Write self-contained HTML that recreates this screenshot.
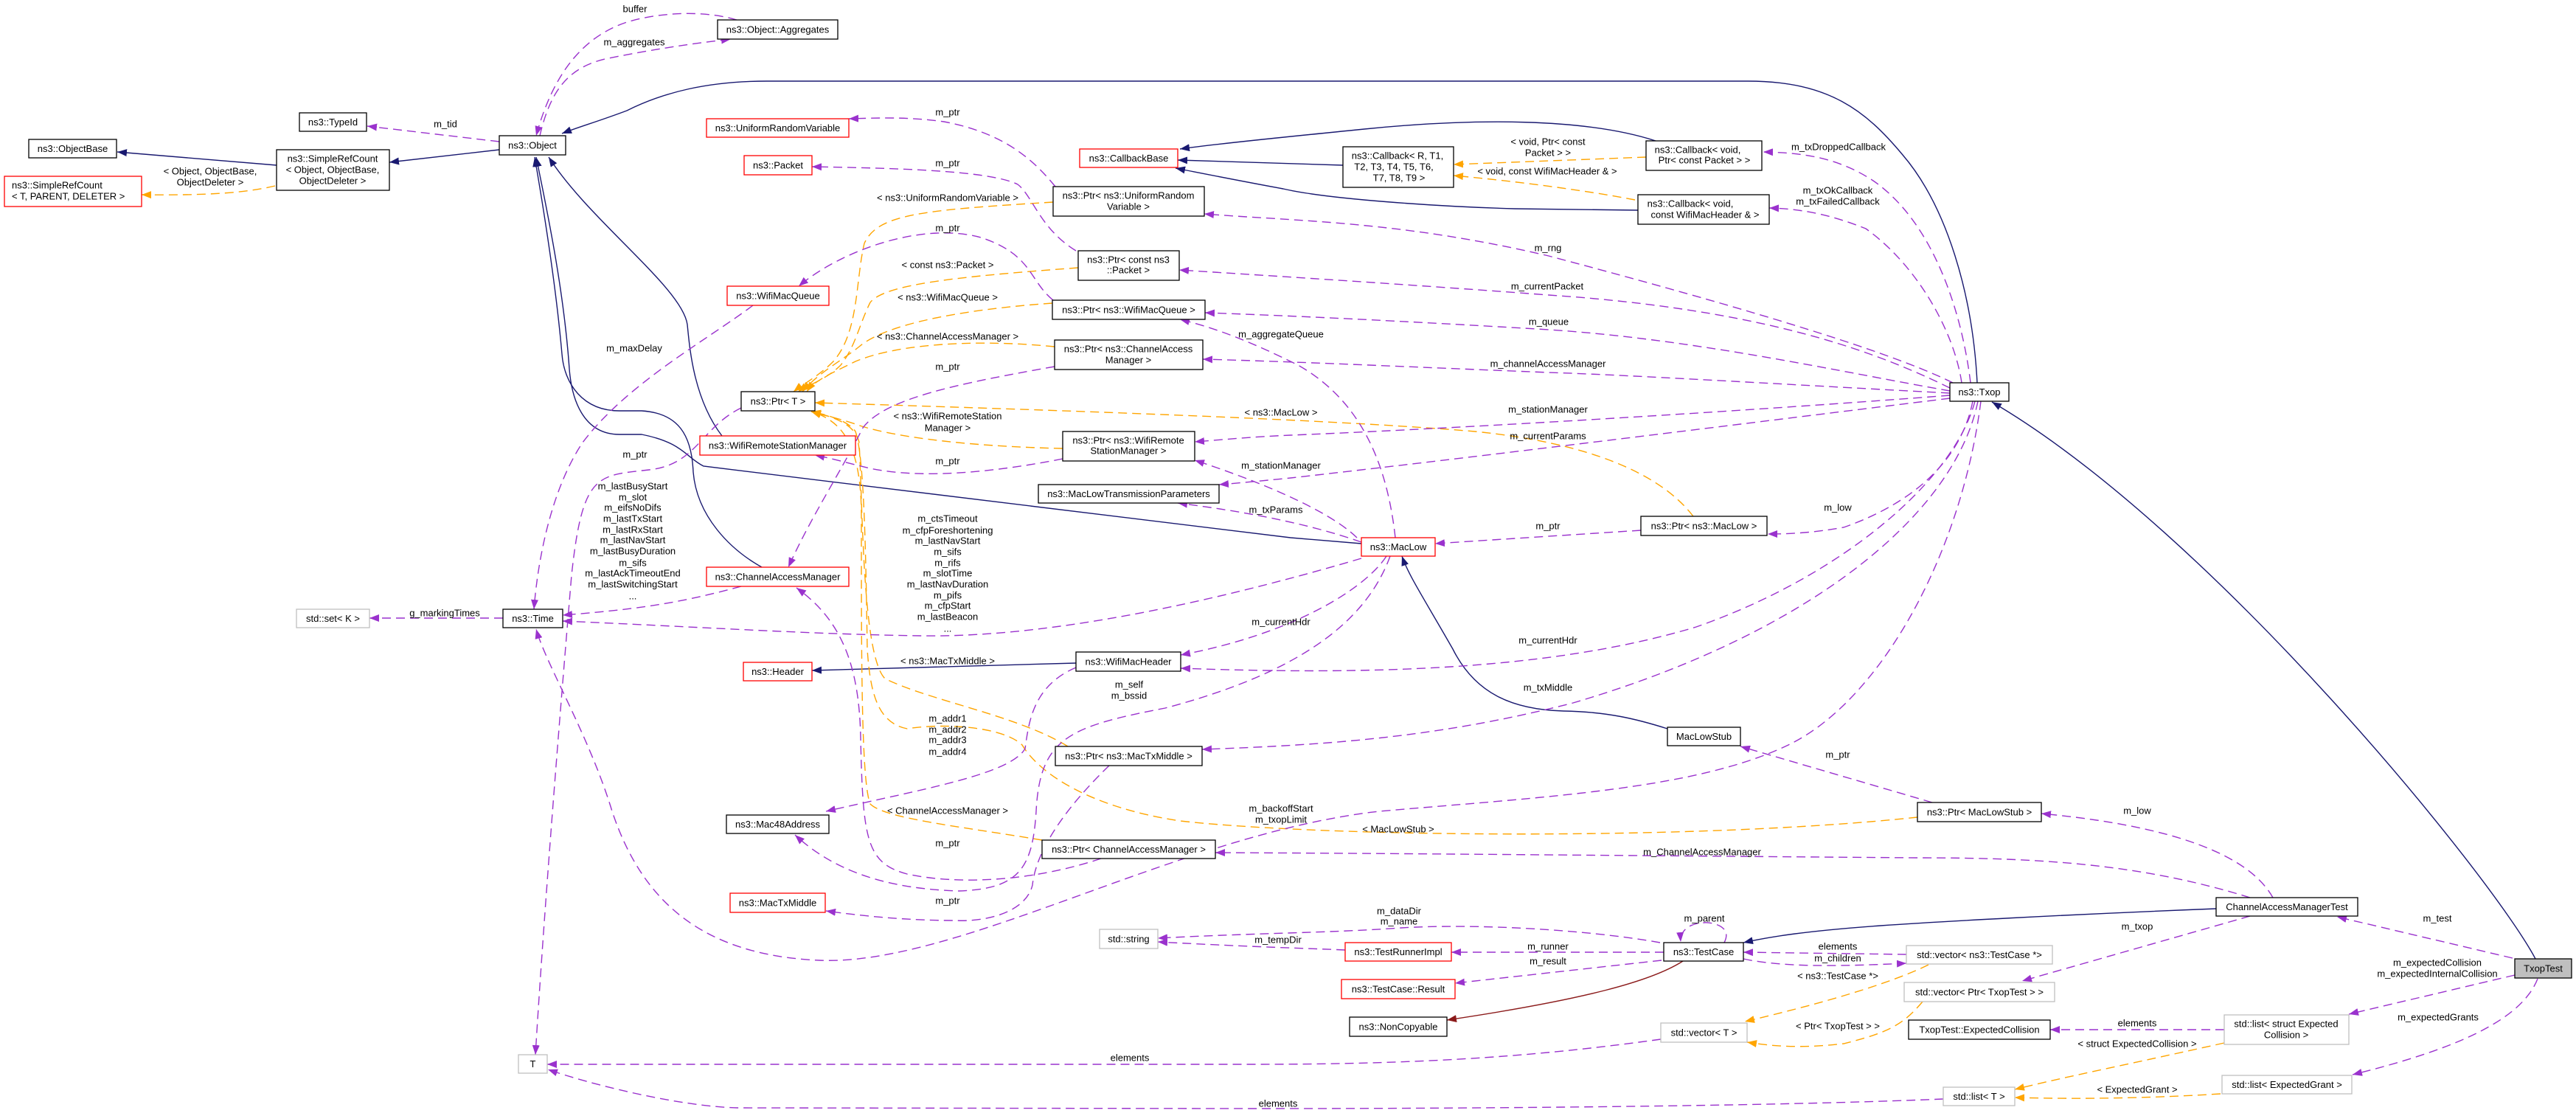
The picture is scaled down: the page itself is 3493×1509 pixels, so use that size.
<!DOCTYPE html>
<html>
<head>
<meta charset="utf-8">
<style>
  html, body { margin:0; padding:0; background:#ffffff; }
  svg { display:block; }
  text { font-family: "Liberation Sans", "DejaVu Sans", sans-serif; font-size:13px; fill:#000; }
  .c { text-anchor: middle; }
  .s { text-anchor: start; }
  .p { fill:none; stroke:#9a32cd; stroke-width:1.4; stroke-dasharray:12,7; marker-end:url(#mp); }
  .o { fill:none; stroke:#ffa500; stroke-width:1.4; stroke-dasharray:12,7; marker-end:url(#mo); }
  .b { fill:none; stroke:#191970; stroke-width:1.4; marker-end:url(#mb); }
  .r { fill:none; stroke:#8b1a1a; stroke-width:1.4; marker-end:url(#mr); }
  .nk { fill:#ffffff; stroke:#000000; stroke-width:1.3; }
  .nr { fill:#ffffff; stroke:#ff0000; stroke-width:1.3; }
  .ng { fill:#ffffff; stroke:#bfbfbf; stroke-width:1.3; }
  .nf { fill:#bfbfbf; stroke:#000000; stroke-width:1.3; }
</style>
</head>
<body>
<svg xmlns="http://www.w3.org/2000/svg" width="3493" height="1509" viewBox="0 0 3493 1509">
<defs>
  <marker id="mp" markerWidth="14" markerHeight="10" refX="13" refY="5" orient="auto" markerUnits="userSpaceOnUse"><path d="M0,0 L13,5 L0,10 z" fill="#9a32cd"/></marker>
  <marker id="mo" markerWidth="14" markerHeight="10" refX="13" refY="5" orient="auto" markerUnits="userSpaceOnUse"><path d="M0,0 L13,5 L0,10 z" fill="#ffa500"/></marker>
  <marker id="mb" markerWidth="14" markerHeight="10" refX="13" refY="5" orient="auto" markerUnits="userSpaceOnUse"><path d="M0,0 L13,5 L0,10 z" fill="#191970"/></marker>
  <marker id="mr" markerWidth="14" markerHeight="10" refX="13" refY="5" orient="auto" markerUnits="userSpaceOnUse"><path d="M0,0 L13,5 L0,10 z" fill="#8b1a1a"/></marker>
</defs>
<rect x="0" y="0" width="3493" height="1509" fill="#ffffff"/>

<!-- ============ BLUE (inheritance) ============ -->
<path class="b" d="M375,224 L159,206"/>
<path class="b" d="M677,203 L528,220"/>
<path class="b" d="M2681,519 C2675,400 2640,280 2580,210 C2530,150 2480,110 2370,110 L1040,110 C960,110 900,125 850,150 C810,165 785,172 762,181"/>
<path class="b" d="M979,591 C940,540 935,470 932,440 C925,390 800,300 744,213"/>
<path class="b" d="M1033,769 C990,745 945,700 940,640 C938,590 920,560 870,557 L840,557 C790,557 765,520 762,480 C755,400 740,300 725,213"/>
<path class="b" d="M1846,737 L1750,729 L954,632 C930,620 926,600 870,589 L840,589 C790,589 775,540 772,500 C765,400 745,300 727,213"/>
<path class="b" d="M1459,899 L1101,909"/>
<path class="b" d="M2261,988 C2220,975 2180,965 2120,964 C2050,962 2000,940 1970,880 C1930,810 1910,780 1901,754"/>
<path class="b" d="M1821,224 L1597,217"/>
<path class="b" d="M2245,191 C2150,160 2000,160 1850,175 C1750,185 1650,195 1600,202"/>
<path class="b" d="M2221,285 L2054,283 C1950,280 1800,270 1740,256 C1680,245 1630,235 1594,228"/>
<path class="b" d="M3005,1232 C2800,1240 2620,1250 2550,1255 C2450,1262 2400,1270 2364,1278"/>
<path class="b" d="M3438,1300 C3380,1190 3000,720 2701,545"/>
<path class="r" d="M2282,1303 C2240,1330 2150,1355 1962,1383"/>

<!-- ============ ORANGE (template instances) ============ -->
<path class="o" d="M373,252 C330,262 280,265 192,264"/>
<path class="o" d="M2232,213 L1971,223"/>
<path class="o" d="M2217,271 C2150,258 2050,245 1971,238"/>
<path class="o" d="M1428,274 C1250,285 1190,290 1172,330 C1160,380 1165,450 1130,490 C1110,510 1090,520 1076,531"/>
<path class="o" d="M1462,363 C1300,375 1200,385 1180,410 C1165,440 1160,470 1140,495 C1120,515 1095,522 1082,531"/>
<path class="o" d="M1427,411 C1300,420 1200,440 1165,470 C1140,490 1110,505 1088,531"/>
<path class="o" d="M1430,470 C1330,460 1220,465 1160,490 C1130,505 1105,515 1094,531"/>
<path class="o" d="M1441,608 C1300,605 1200,590 1160,575 C1130,565 1115,563 1100,558"/>
<path class="o" d="M2296,700 C2250,640 2150,600 2000,585 C1800,568 1400,555 1105,546"/>
<path class="o" d="M1448,1012 C1380,970 1260,950 1200,920 C1170,890 1170,700 1165,600 C1160,575 1130,565 1100,558"/>
<path class="o" d="M2600,1108 C2300,1140 1800,1135 1600,1113 C1480,1095 1410,1050 1386,1010 C1360,985 1280,980 1230,988 C1190,980 1180,940 1176,880 C1174,750 1172,620 1160,585 C1150,570 1120,562 1100,558"/>
<path class="o" d="M1413,1139 C1300,1120 1200,1110 1180,1090 C1168,1060 1168,900 1168,700 C1168,600 1140,570 1100,558"/>
<path class="o" d="M2615,1308 C2550,1340 2430,1370 2366,1385"/>
<path class="o" d="M2607,1358 C2580,1390 2560,1400 2500,1415 C2440,1422 2400,1418 2369,1413"/>
<path class="o" d="M3016,1414 C2900,1440 2800,1460 2732,1477"/>
<path class="o" d="M3011,1483 C2900,1490 2800,1490 2732,1488"/>

<!-- ============ PURPLE (usage) ============ -->
<path class="p" d="M677,192 L498,171"/>
<path class="p" d="M732,184 C747,120 772,92 820,80 C880,68 930,60 991,53"/>
<path class="p" d="M999,27 C960,15 900,15 850,30 C790,50 750,100 727,184"/>
<path class="p" d="M1431,253 C1400,215 1360,180 1280,165 C1230,158 1190,160 1151,161"/>
<path class="p" d="M1459,340 C1410,310 1400,265 1380,250 C1340,230 1200,228 1101,226"/>
<path class="p" d="M1428,407 C1395,380 1400,345 1330,322 C1250,300 1140,340 1083,388"/>
<path class="p" d="M1430,497 C1300,520 1200,540 1170,580 C1140,640 1100,700 1069,769"/>
<path class="p" d="M1021,414 C960,460 850,520 790,600 C750,660 730,750 724,826"/>
<path class="p" d="M1005,553 C950,580 945,630 880,637 C810,645 790,640 775,780 C765,900 740,1200 726,1430"/>
<path class="p" d="M1441,622 C1350,640 1250,650 1180,635 C1150,628 1130,622 1105,617"/>
<path class="p" d="M1005,795 C930,815 880,825 763,834"/>
<path class="p" d="M1846,757 C1700,800 1450,865 1250,862 C1100,860 950,850 763,842"/>
<path class="p" d="M1892,729 C1880,620 1840,540 1760,495 C1700,465 1650,445 1600,433"/>
<path class="p" d="M1840,729 C1800,690 1700,650 1620,624"/>
<path class="p" d="M1846,735 C1780,712 1700,695 1597,682"/>
<path class="p" d="M1880,754 C1850,800 1750,860 1601,888"/>
<path class="p" d="M1885,754 C1850,850 1750,915 1580,960 C1450,985 1410,1000 1405,1100 C1400,1180 1380,1205 1300,1208 C1200,1205 1130,1180 1078,1132"/>
<path class="p" d="M1459,905 C1400,930 1395,980 1390,1015 C1370,1050 1250,1070 1120,1100"/>
<path class="p" d="M1504,1038 C1450,1090 1405,1150 1400,1200 C1390,1240 1330,1250 1296,1248 C1230,1248 1170,1242 1120,1235"/>
<path class="p" d="M1493,1164 C1400,1195 1300,1200 1230,1185 C1175,1170 1170,1140 1167,1000 C1165,900 1140,840 1080,797"/>
<path class="p" d="M2672,519 C2660,420 2620,300 2540,245 C2490,212 2440,207 2391,206"/>
<path class="p" d="M2660,519 C2650,450 2600,360 2530,310 C2480,290 2440,283 2399,282"/>
<path class="p" d="M2648,519 C2550,470 2300,400 2100,347 C1900,300 1760,300 1633,290"/>
<path class="p" d="M2644,526 C2550,480 2400,420 2100,400 C1900,385 1740,375 1599,366"/>
<path class="p" d="M2644,530 C2500,505 2300,460 2100,447 C1900,435 1750,428 1634,424"/>
<path class="p" d="M2644,533 C2400,520 2200,508 2100,505 C1900,497 1750,490 1631,487"/>
<path class="p" d="M2644,536 C2400,555 2000,580 1750,590 C1700,592 1660,596 1620,599"/>
<path class="p" d="M2644,540 C2400,570 2000,620 1750,648 C1720,651 1680,655 1653,657"/>
<path class="p" d="M2675,544 C2660,620 2600,680 2500,715 C2460,722 2430,724 2397,724"/>
<path class="p" d="M2678,544 C2650,650 2500,780 2300,850 C2100,910 1850,915 1601,906"/>
<path class="p" d="M2682,544 C2650,700 2450,860 2133,953 C1950,1000 1800,1010 1630,1016"/>
<path class="p" d="M2686,544 C2660,750 2550,950 2425,1010 C2300,1070 2100,1080 1870,1100 C1600,1130 1300,1310 1111,1302 C950,1295 870,1220 830,1100 C800,1000 740,900 727,853"/>
<path class="p" d="M2225,719 L1946,737"/>
<path class="p" d="M2620,1088 L2360,1012"/>
<path class="p" d="M3082,1217 C3050,1160 2950,1120 2768,1103"/>
<path class="p" d="M3051,1217 C2900,1170 2760,1163 2600,1163 C2200,1160 1900,1157 1648,1156"/>
<path class="p" d="M3051,1242 L2742,1330"/>
<path class="p" d="M3407,1299 L3169,1243"/>
<path class="p" d="M3410,1322 L3185,1375"/>
<path class="p" d="M3441,1327 C3420,1380 3340,1420 3190,1457"/>
<path class="p" d="M3016,1396 L2780,1396"/>
<path class="p" d="M2635,1490 C2400,1500 2000,1503 1700,1503 L1000,1502 C920,1500 800,1470 743,1450"/>
<path class="p" d="M2252,1409 C2100,1430 1950,1443 1700,1443 L742,1443"/>
<path class="p" d="M2585,1294 L2364,1291"/>
<path class="p" d="M2364,1300 C2420,1312 2500,1310 2585,1306"/>
<path class="p" d="M2338,1278 C2350,1255 2320,1250 2310,1251 C2290,1252 2278,1262 2279,1277"/>
<path class="p" d="M2256,1291 L1968,1291"/>
<path class="p" d="M2253,1302 L1973,1333"/>
<path class="p" d="M2251,1278 C2150,1260 2000,1252 1900,1258 C1800,1265 1700,1265 1570,1272"/>
<path class="p" d="M1824,1288 C1780,1286 1700,1284 1570,1277"/>
<path class="p" d="M682,838 L501,838"/>

<!-- ============ EDGE LABELS ============ -->
<g class="lbl">
<text class="c" x="861" y="16.5">buffer</text>
<text class="c" x="860" y="61.5">m_aggregates</text>
<text class="c" x="604" y="172.5">m_tid</text>
<text class="c" x="285" y="236.5">&lt; Object, ObjectBase,</text>
<text class="c" x="285" y="251.5">ObjectDeleter &gt;</text>
<text class="c" x="1285" y="156.5">m_ptr</text>
<text class="c" x="1285" y="225.5">m_ptr</text>
<text class="c" x="1285" y="272.5">&lt; ns3::UniformRandomVariable &gt;</text>
<text class="c" x="1285" y="313.5">m_ptr</text>
<text class="c" x="1285" y="363.5">&lt; const ns3::Packet &gt;</text>
<text class="c" x="1285" y="407.5">&lt; ns3::WifiMacQueue &gt;</text>
<text class="c" x="1285" y="460.5">&lt; ns3::ChannelAccessManager &gt;</text>
<text class="c" x="1285" y="501.5">m_ptr</text>
<text class="c" x="1737" y="457.5">m_aggregateQueue</text>
<text class="c" x="2099" y="196.5">&lt; void, Ptr&lt; const</text>
<text class="c" x="2099" y="211.5">Packet &gt; &gt;</text>
<text class="c" x="2098" y="236.5">&lt; void, const WifiMacHeader &amp; &gt;</text>
<text class="c" x="2493" y="203.5">m_txDroppedCallback</text>
<text class="c" x="2492" y="262.5">m_txOkCallback</text>
<text class="c" x="2492" y="277.5">m_txFailedCallback</text>
<text class="c" x="2099" y="340.5">m_rng</text>
<text class="c" x="2098" y="392.5">m_currentPacket</text>
<text class="c" x="2100" y="440.5">m_queue</text>
<text class="c" x="2099" y="497.5">m_channelAccessManager</text>
<text class="c" x="860" y="476.5">m_maxDelay</text>
<text class="c" x="861" y="620.5">m_ptr</text>
<text class="c" x="1285" y="568.5">&lt; ns3::WifiRemoteStation</text>
<text class="c" x="1285" y="584.5">Manager &gt;</text>
<text class="c" x="1285" y="629.5">m_ptr</text>
<text class="c" x="1737" y="563.5">&lt; ns3::MacLow &gt;</text>
<text class="c" x="2099" y="559.5">m_stationManager</text>
<text class="c" x="2099" y="595.5">m_currentParams</text>
<text class="c" x="1737" y="635.5">m_stationManager</text>
<text class="c" x="1730" y="695.5">m_txParams</text>
<text class="c" x="2099" y="717.5">m_ptr</text>
<text class="c" x="2492" y="692.5">m_low</text>

<text class="c" x="858" y="663.5">m_lastBusyStart</text>
<text class="c" x="858" y="678.5">m_slot</text>
<text class="c" x="858" y="692.5">m_eifsNoDifs</text>
<text class="c" x="858" y="707.5">m_lastTxStart</text>
<text class="c" x="858" y="722.5">m_lastRxStart</text>
<text class="c" x="858" y="736.5">m_lastNavStart</text>
<text class="c" x="858" y="751.5">m_lastBusyDuration</text>
<text class="c" x="858" y="767.5">m_sifs</text>
<text class="c" x="858" y="781.5">m_lastAckTimeoutEnd</text>
<text class="c" x="858" y="796.5">m_lastSwitchingStart</text>
<text class="c" x="858" y="812.5">...</text>

<text class="c" x="1285" y="707.5">m_ctsTimeout</text>
<text class="c" x="1285" y="723.5">m_cfpForeshortening</text>
<text class="c" x="1285" y="737.5">m_lastNavStart</text>
<text class="c" x="1285" y="752.5">m_sifs</text>
<text class="c" x="1285" y="767.5">m_rifs</text>
<text class="c" x="1285" y="781.5">m_slotTime</text>
<text class="c" x="1285" y="796.5">m_lastNavDuration</text>
<text class="c" x="1285" y="811.5">m_pifs</text>
<text class="c" x="1285" y="825.5">m_cfpStart</text>
<text class="c" x="1285" y="840.5">m_lastBeacon</text>
<text class="c" x="1285" y="856.5">...</text>

<text class="c" x="603" y="835.5">g_markingTimes</text>
<text class="c" x="1737" y="847.5">m_currentHdr</text>
<text class="c" x="2099" y="872.5">m_currentHdr</text>
<text class="c" x="2099" y="936.5">m_txMiddle</text>
<text class="c" x="1285" y="900.5">&lt; ns3::MacTxMiddle &gt;</text>
<text class="c" x="1531" y="932.5">m_self</text>
<text class="c" x="1531" y="947.5">m_bssid</text>
<text class="c" x="1285" y="978.5">m_addr1</text>
<text class="c" x="1285" y="993.5">m_addr2</text>
<text class="c" x="1285" y="1007.5">m_addr3</text>
<text class="c" x="1285" y="1023.5">m_addr4</text>
<text class="c" x="1285" y="1103.5">&lt; ChannelAccessManager &gt;</text>
<text class="c" x="1285" y="1147.5">m_ptr</text>
<text class="c" x="1285" y="1225.5">m_ptr</text>
<text class="c" x="1737" y="1100.5">m_backoffStart</text>
<text class="c" x="1737" y="1115.5">m_txopLimit</text>
<text class="c" x="2492" y="1027.5">m_ptr</text>
<text class="c" x="1896" y="1128.5">&lt; MacLowStub &gt;</text>
<text class="c" x="2308" y="1159.5">m_ChannelAccessManager</text>
<text class="c" x="2898" y="1103.5">m_low</text>
<text class="c" x="1733" y="1278.5">m_tempDir</text>
<text class="c" x="1897" y="1239.5">m_dataDir</text>
<text class="c" x="1897" y="1253.5">m_name</text>
<text class="c" x="2311" y="1249.5">m_parent</text>
<text class="c" x="2099" y="1287.5">m_runner</text>
<text class="c" x="2099" y="1307.5">m_result</text>
<text class="c" x="2492" y="1287.5">elements</text>
<text class="c" x="2492" y="1303.5">m_children</text>
<text class="c" x="2492" y="1327.5">&lt; ns3::TestCase *&gt;</text>
<text class="c" x="2492" y="1395.5">&lt; Ptr&lt; TxopTest &gt; &gt;</text>
<text class="c" x="2898" y="1260.5">m_txop</text>
<text class="c" x="3305" y="1249.5">m_test</text>
<text class="c" x="3305" y="1309.5">m_expectedCollision</text>
<text class="c" x="3305" y="1324.5">m_expectedInternalCollision</text>
<text class="c" x="3306" y="1383.5">m_expectedGrants</text>
<text class="c" x="2898" y="1391.5">elements</text>
<text class="c" x="2898" y="1419.5">&lt; struct ExpectedCollision &gt;</text>
<text class="c" x="2898" y="1481.5">&lt; ExpectedGrant &gt;</text>
<text class="c" x="1532" y="1438.5">elements</text>
<text class="c" x="1733" y="1500.5">elements</text>
</g>

<!-- ============ NODES ============ -->
<rect class="nk" x="973" y="27" width="163" height="26"/><text class="c" x="1054.5" y="44.5">ns3::Object::Aggregates</text>
<rect class="nk" x="406" y="153" width="91" height="25"/><text class="c" x="451.5" y="170">ns3::TypeId</text>
<rect class="nk" x="39" y="189" width="119" height="25"/><text class="c" x="98.5" y="206">ns3::ObjectBase</text>
<rect class="nk" x="375" y="203" width="153" height="55"/>
<text class="c" x="451" y="219.5">ns3::SimpleRefCount</text>
<text class="c" x="451" y="234.5">&lt; Object, ObjectBase,</text>
<text class="c" x="451" y="249.5">ObjectDeleter &gt;</text>
<rect class="nr" x="6" y="239" width="186" height="41"/>
<text class="s" x="16" y="255.5">ns3::SimpleRefCount</text>
<text class="s" x="16" y="270.5">&lt; T, PARENT, DELETER &gt;</text>
<rect class="nk" x="677" y="184" width="90" height="26"/><text class="c" x="722" y="201.5">ns3::Object</text>
<rect class="nr" x="958" y="161" width="193" height="25"/><text class="c" x="1054.5" y="178">ns3::UniformRandomVariable</text>
<rect class="nr" x="1009" y="211" width="92" height="26"/><text class="c" x="1055" y="228.5">ns3::Packet</text>
<rect class="nr" x="1464" y="202" width="133" height="25"/><text class="c" x="1530.5" y="219">ns3::CallbackBase</text>
<rect class="nk" x="1821" y="199" width="150" height="55"/>
<text class="c" x="1895" y="215.5">ns3::Callback&lt; R, T1,</text>
<text class="c" x="1890" y="230.5">T2, T3, T4, T5, T6,</text>
<text class="c" x="1897" y="245.5">T7, T8, T9 &gt;</text>
<rect class="nk" x="2232" y="191" width="157" height="40"/>
<text class="c" x="2302" y="207.5">ns3::Callback&lt; void,</text>
<text class="c" x="2311" y="221.5">Ptr&lt; const Packet &gt; &gt;</text>
<rect class="nk" x="2221" y="264" width="178" height="40"/>
<text class="c" x="2292" y="280.5">ns3::Callback&lt; void,</text>
<text class="c" x="2312" y="295.5">const WifiMacHeader &amp; &gt;</text>
<rect class="nk" x="1428" y="253" width="205" height="40"/>
<text class="c" x="1530" y="269.5">ns3::Ptr&lt; ns3::UniformRandom</text>
<text class="c" x="1530" y="284.5">Variable &gt;</text>
<rect class="nk" x="1462" y="340" width="137" height="40"/>
<text class="c" x="1530" y="356.5">ns3::Ptr&lt; const ns3</text>
<text class="c" x="1530" y="370.5">::Packet &gt;</text>
<rect class="nr" x="986" y="388" width="138" height="26"/><text class="c" x="1055" y="405.5">ns3::WifiMacQueue</text>
<rect class="nk" x="1427" y="407" width="207" height="26"/><text class="c" x="1530.5" y="424.5">ns3::Ptr&lt; ns3::WifiMacQueue &gt;</text>
<rect class="nk" x="1430" y="461" width="201" height="40"/>
<text class="c" x="1530" y="477.5">ns3::Ptr&lt; ns3::ChannelAccess</text>
<text class="c" x="1530" y="492.5">Manager &gt;</text>
<rect class="nk" x="1005" y="531" width="100" height="26"/><text class="c" x="1055" y="548.5">ns3::Ptr&lt; T &gt;</text>
<rect class="nr" x="949" y="591" width="211" height="26"/><text class="c" x="1054.5" y="608.5">ns3::WifiRemoteStationManager</text>
<rect class="nk" x="1441" y="585" width="179" height="40"/>
<text class="c" x="1530" y="601.5">ns3::Ptr&lt; ns3::WifiRemote</text>
<text class="c" x="1530" y="615.5">StationManager &gt;</text>
<rect class="nk" x="1408" y="657" width="245" height="25"/><text class="c" x="1530.5" y="674">ns3::MacLowTransmissionParameters</text>
<rect class="nr" x="958" y="769" width="193" height="26"/><text class="c" x="1054.5" y="786.5">ns3::ChannelAccessManager</text>
<rect class="nr" x="1846" y="729" width="100" height="25"/><text class="c" x="1896" y="746">ns3::MacLow</text>
<rect class="nk" x="2225" y="700" width="171" height="26"/><text class="c" x="2310.5" y="717.5">ns3::Ptr&lt; ns3::MacLow &gt;</text>
<rect class="nk" x="2644" y="519" width="80" height="25"/><text class="c" x="2684" y="536">ns3::Txop</text>
<rect class="ng" x="402" y="826" width="99" height="25"/><text class="c" x="451.5" y="843">std::set&lt; K &gt;</text>
<rect class="nk" x="682" y="826" width="81" height="25"/><text class="c" x="722.5" y="843">ns3::Time</text>
<rect class="nr" x="1008" y="898" width="93" height="25"/><text class="c" x="1054.5" y="915">ns3::Header</text>
<rect class="nk" x="1459" y="884" width="142" height="26"/><text class="c" x="1530" y="901.5">ns3::WifiMacHeader</text>
<rect class="nk" x="1431" y="1012" width="199" height="26"/><text class="c" x="1530.5" y="1029.5">ns3::Ptr&lt; ns3::MacTxMiddle &gt;</text>
<rect class="nk" x="985" y="1105" width="139" height="25"/><text class="c" x="1054.5" y="1122">ns3::Mac48Address</text>
<rect class="nk" x="1413" y="1139" width="235" height="25"/><text class="c" x="1530.5" y="1156">ns3::Ptr&lt; ChannelAccessManager &gt;</text>
<rect class="nr" x="990" y="1211" width="129" height="26"/><text class="c" x="1054.5" y="1228.5">ns3::MacTxMiddle</text>
<rect class="ng" x="1491" y="1260" width="79" height="26"/><text class="c" x="1530.5" y="1277.5">std::string</text>
<rect class="nk" x="2261" y="986" width="99" height="25"/><text class="c" x="2310.5" y="1003">MacLowStub</text>
<rect class="nk" x="2600" y="1088" width="168" height="26"/><text class="c" x="2684" y="1105.5">ns3::Ptr&lt; MacLowStub &gt;</text>
<rect class="nk" x="2256" y="1278" width="108" height="25"/><text class="c" x="2310" y="1295">ns3::TestCase</text>
<rect class="nr" x="1824" y="1278" width="144" height="25"/><text class="c" x="1896" y="1295">ns3::TestRunnerImpl</text>
<rect class="nr" x="1819" y="1328" width="154" height="26"/><text class="c" x="1896" y="1345.5">ns3::TestCase::Result</text>
<rect class="nk" x="1830" y="1379" width="132" height="26"/><text class="c" x="1896" y="1396.5">ns3::NonCopyable</text>
<rect class="ng" x="2252" y="1387" width="117" height="26"/><text class="c" x="2310.5" y="1404.5">std::vector&lt; T &gt;</text>
<rect class="ng" x="2585" y="1282" width="198" height="25"/><text class="c" x="2684" y="1299">std::vector&lt; ns3::TestCase *&gt;</text>
<rect class="ng" x="2582" y="1332" width="204" height="26"/><text class="c" x="2684" y="1349.5">std::vector&lt; Ptr&lt; TxopTest &gt; &gt;</text>
<rect class="nk" x="2588" y="1383" width="192" height="26"/><text class="c" x="2684" y="1400.5">TxopTest::ExpectedCollision</text>
<rect class="nk" x="3005" y="1217" width="192" height="25"/><text class="c" x="3101" y="1234">ChannelAccessManagerTest</text>
<rect class="nf" x="3410" y="1300" width="77" height="26"/><text class="c" x="3448.5" y="1317.5">TxopTest</text>
<rect class="ng" x="3016" y="1376" width="169" height="40"/>
<text class="c" x="3100" y="1392.5">std::list&lt; struct Expected</text>
<text class="c" x="3100" y="1407.5">Collision &gt;</text>
<rect class="ng" x="3013" y="1458" width="176" height="25"/><text class="c" x="3101" y="1475">std::list&lt; ExpectedGrant &gt;</text>
<rect class="ng" x="2635" y="1474" width="97" height="25"/><text class="c" x="2683.5" y="1491">std::list&lt; T &gt;</text>
<rect class="ng" x="703" y="1430" width="39" height="25"/><text class="c" x="722.5" y="1447">T</text>
</svg>
</body>
</html>
